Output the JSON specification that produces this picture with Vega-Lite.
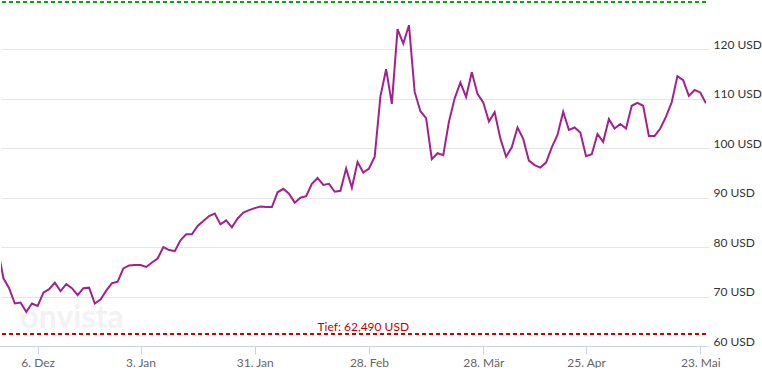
{
  "$schema": "https://vega.github.io/schema/vega-lite/v6.json",
  "width": 705,
  "height": 346,
  "padding": 0,
  "background": "white",
  "config": {"view": {"stroke": null}},
  "datasets": {
    "prices": [
      {"d":"2021-11-25","v":79.8},{"d":"2021-11-26","v":73.7},{"d":"2021-11-29","v":71.7},{"d":"2021-11-30","v":68.6},
      {"d":"2021-12-01","v":68.8},{"d":"2021-12-02","v":66.9},{"d":"2021-12-03","v":68.6},{"d":"2021-12-06","v":68.1},
      {"d":"2021-12-07","v":70.8},{"d":"2021-12-08","v":71.5},{"d":"2021-12-09","v":72.8},{"d":"2021-12-10","v":71.1},
      {"d":"2021-12-13","v":72.5},{"d":"2021-12-14","v":71.7},{"d":"2021-12-15","v":70.3},{"d":"2021-12-16","v":71.7},
      {"d":"2021-12-17","v":71.8},{"d":"2021-12-20","v":68.6},{"d":"2021-12-21","v":69.4},{"d":"2021-12-22","v":71.2},
      {"d":"2021-12-23","v":72.7},{"d":"2021-12-27","v":73.0},{"d":"2021-12-28","v":75.7},{"d":"2021-12-29","v":76.3},
      {"d":"2021-12-30","v":76.4},{"d":"2022-01-03","v":76.4},{"d":"2022-01-04","v":76.0},{"d":"2022-01-05","v":76.9},
      {"d":"2022-01-06","v":77.7},{"d":"2022-01-07","v":80.0},{"d":"2022-01-10","v":79.4},{"d":"2022-01-11","v":79.2},
      {"d":"2022-01-12","v":81.4},{"d":"2022-01-13","v":82.6},{"d":"2022-01-14","v":82.6},{"d":"2022-01-17","v":84.3},
      {"d":"2022-01-18","v":85.3},{"d":"2022-01-19","v":86.3},{"d":"2022-01-20","v":86.8},{"d":"2022-01-21","v":84.6},
      {"d":"2022-01-24","v":85.4},{"d":"2022-01-25","v":84.0},{"d":"2022-01-26","v":85.8},{"d":"2022-01-27","v":87.0},
      {"d":"2022-01-28","v":87.5},{"d":"2022-01-31","v":87.9},{"d":"2022-02-01","v":88.2},{"d":"2022-02-02","v":88.1},
      {"d":"2022-02-03","v":88.1},{"d":"2022-02-04","v":91.1},{"d":"2022-02-07","v":91.8},{"d":"2022-02-08","v":90.8},
      {"d":"2022-02-09","v":89.0},{"d":"2022-02-10","v":90.0},{"d":"2022-02-11","v":90.3},{"d":"2022-02-14","v":92.8},
      {"d":"2022-02-15","v":94.0},{"d":"2022-02-16","v":92.6},{"d":"2022-02-17","v":92.8},{"d":"2022-02-18","v":91.2},
      {"d":"2022-02-21","v":91.4},{"d":"2022-02-22","v":95.9},{"d":"2022-02-23","v":92.0},{"d":"2022-02-24","v":97.2},
      {"d":"2022-02-25","v":95.1},{"d":"2022-02-28","v":95.9},{"d":"2022-03-01","v":98.3},{"d":"2022-03-02","v":110.5},
      {"d":"2022-03-03","v":116.0},{"d":"2022-03-04","v":109.0},{"d":"2022-03-07","v":124.1},{"d":"2022-03-08","v":121.2},
      {"d":"2022-03-09","v":124.9},{"d":"2022-03-10","v":111.4},{"d":"2022-03-11","v":107.5},{"d":"2022-03-14","v":106.1},
      {"d":"2022-03-15","v":97.8},{"d":"2022-03-16","v":99.0},{"d":"2022-03-17","v":98.6},{"d":"2022-03-18","v":105.4},
      {"d":"2022-03-21","v":110.1},{"d":"2022-03-22","v":113.3},{"d":"2022-03-23","v":110.4},{"d":"2022-03-24","v":115.4},
      {"d":"2022-03-25","v":111.0},{"d":"2022-03-28","v":109.3},{"d":"2022-03-29","v":105.4},{"d":"2022-03-30","v":107.3},
      {"d":"2022-03-31","v":102.0},{"d":"2022-04-01","v":98.3},{"d":"2022-04-04","v":100.2},{"d":"2022-04-05","v":104.2},
      {"d":"2022-04-06","v":101.9},{"d":"2022-04-07","v":97.5},{"d":"2022-04-08","v":96.6},{"d":"2022-04-11","v":96.1},
      {"d":"2022-04-12","v":97.1},{"d":"2022-04-13","v":100.2},{"d":"2022-04-14","v":102.7},{"d":"2022-04-19","v":107.4},
      {"d":"2022-04-20","v":103.7},{"d":"2022-04-21","v":104.2},{"d":"2022-04-22","v":103.2},{"d":"2022-04-25","v":98.4},
      {"d":"2022-04-26","v":98.8},{"d":"2022-04-27","v":102.9},{"d":"2022-04-28","v":101.3},{"d":"2022-04-29","v":105.9},
      {"d":"2022-05-02","v":104.0},{"d":"2022-05-03","v":104.9},{"d":"2022-05-04","v":104.0},{"d":"2022-05-05","v":108.6},
      {"d":"2022-05-06","v":109.2},{"d":"2022-05-09","v":108.6},{"d":"2022-05-10","v":102.5},{"d":"2022-05-11","v":102.5},
      {"d":"2022-05-12","v":104.0},{"d":"2022-05-13","v":106.4},{"d":"2022-05-16","v":109.3},{"d":"2022-05-17","v":114.6},
      {"d":"2022-05-18","v":113.8},{"d":"2022-05-19","v":110.6},{"d":"2022-05-20","v":111.8},{"d":"2022-05-23","v":111.3},
      {"d":"2022-05-24","v":109.1}
    ],
    "notes": [
      {"d":"2022-02-25","v":62.49,"t":"Tief: 62,490 USD"}
    ],
    "mark": [
      {"d":"2021-12-14","v":63.6,"t":"onvista"}
    ]
  },
  "data": {"name": "prices"},
  "encoding": {
    "x": {
      "field": "d",
      "type": "ordinal",
      "sort": "ascending",
      "scale": {"type": "point", "range": [-3.3, 705], "padding": 0},
      "axis": {
        "title": null,
        "values": ["2021-12-06","2022-01-03","2022-01-31","2022-02-28","2022-03-28","2022-04-25","2022-05-23"],
        "labelExpr": "datum.value == '2021-12-06' ? '6. Dez' : datum.value == '2022-01-03' ? '3. Jan' : datum.value == '2022-01-31' ? '31. Jan' : datum.value == '2022-02-28' ? '28. Feb' : datum.value == '2022-03-28' ? '28. Mär' : datum.value == '2022-04-25' ? '25. Apr' : '23. Mai'",
        "labelAngle": 0,
        "labelColor": "#666666",
        "labelFont": "Lato",
        "labelFontSize": 12,
        "labelPadding": 3,
        "domainColor": "#c8d4e6",
        "tickColor": "#c8d4e6",
        "tickSize": 8,
        "grid": false
      }
    },
    "y": {
      "field": "v",
      "type": "quantitative",
      "scale": {"domain": [60, 130], "nice": false, "zero": false},
      "axis": {
        "title": null,
        "orient": "right",
        "values": [60, 70, 80, 90, 100, 110, 120],
        "labelExpr": "datum.value + ' USD'",
        "labelColor": "#333333",
        "labelFont": "Lato",
        "labelFontSize": 12,
        "labelBaseline": "alphabetic",
        "labelOffset": -1,
        "labelPadding": 7,
        "domain": false,
        "ticks": false,
        "grid": true,
        "gridColor": "#e6e6e6"
      }
    }
  },
  "layer": [
    {
      "data": {"name": "mark"},
      "mark": {"type": "text", "font": "Lato", "fontWeight": "bold", "fontSize": 32, "color": "#f2f2f2", "baseline": "alphabetic", "align": "center"},
      "encoding": {"text": {"field": "t"}}
    },
    {
      "mark": {"type": "rule", "color": "#00a000", "strokeDash": [4, 3], "strokeWidth": 1},
      "encoding": {"x": null, "y": {"datum": 129.5, "type": "quantitative"}}
    },
    {
      "mark": {"type": "rule", "color": "#cc0000", "strokeDash": [4, 3], "strokeWidth": 1},
      "encoding": {"x": null, "y": {"datum": 62.49, "type": "quantitative"}}
    },
    {
      "data": {"name": "notes"},
      "mark": {"type": "text", "font": "Lato", "fontSize": 12, "color": "#c00000", "baseline": "alphabetic", "align": "center", "dy": -3},
      "encoding": {"text": {"field": "t"}}
    },
    {
      "mark": {"type": "line", "color": "#a3218f", "strokeWidth": 2, "clip": true, "interpolate": "linear"}
    }
  ]
}
